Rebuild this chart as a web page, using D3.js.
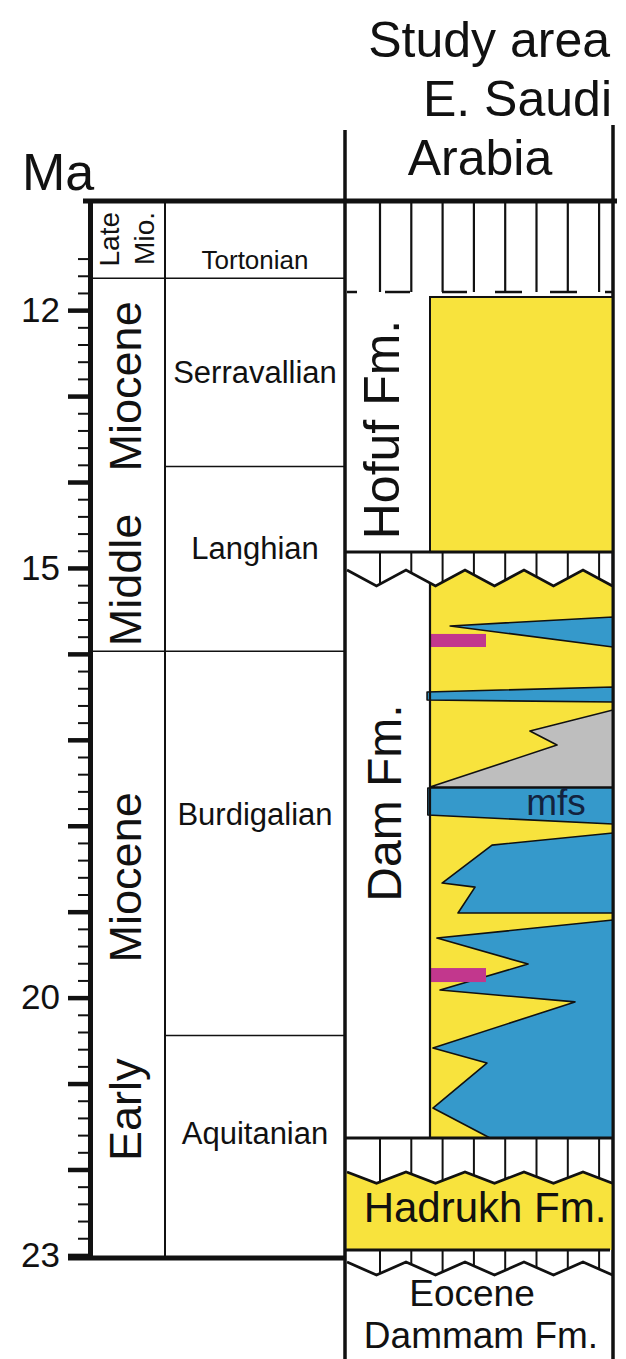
<!DOCTYPE html>
<html>
<head>
<meta charset="utf-8">
<script src="https://cdn.jsdelivr.net/npm/d3@7"></script>
<style>
  body { margin: 0; background: #fff; }
  svg { display: block; }
  text { font-family: "Liberation Sans", Arial, Helvetica, sans-serif; fill: #111; }
</style>
</head>
<body>
<svg id="chart" width="626" height="1359"></svg>
<script>
// ---------- Time scale (Ma) ----------
const timeTop = 10.73;
const timeBase = 23.03;
const majorTicks = d3.range(12, 24);                  // 12 … 23 Ma
const minorTicks = d3.range(57, 116).map(i => i / 5)  // 11.4 … 23.0 Ma
  .filter(v => !Number.isInteger(v));
const labelledTicks = [12, 15, 20, 23];

const epochNames = [["Late", "Mio."], ["Middle", "Miocene"], ["Early", "Miocene"]];
const epochTops  = [10.73, 11.63, 15.97];
const epochBases = [11.63, 15.97, 23.03];

const stageNames  = ["Tortonian", "Serravallian", "Langhian", "Burdigalian", "Aquitanian"];
const stageTops   = [10.73, 11.63, 13.82, 15.97, 20.44];
const stageBases  = [11.63, 13.82, 15.97, 20.44, 23.03];
const stageLabelAt = [11.42, 12.72, 14.77, 17.87, 21.58];

// ---------- Eastern Saudi Arabia succession ----------
// polygons are [fraction across the lithology column, age in Ma]
const hofufSand = [11.847, 14.815];          // top, base
const damBase = 21.634;
const hadrukhBase = 22.938;

const shaleWedges = [
  [[0.11, 15.675], [1, 15.571], [1, 15.92]],
  [[-0.016, 16.444], [1, 16.386], [1, 16.56], [-0.016, 16.537]],
  [[1, 18.085], [0.339, 18.225], [0.066, 18.667], [0.246, 18.714], [0.153, 19.016], [1, 19.016]],
  [[1, 19.097], [0.038, 19.307], [0.536, 19.61], [0.055, 19.912], [0.792, 20.05],
   [0.016, 20.587], [0.311, 20.762], [0.016, 21.285], [0.328, 21.634], [1, 21.634]]
];
const mfsBand = [[-0.012, 17.56], [1, 17.56], [1, 17.98], [-0.012, 17.875]];
const carbonate = [[1, 16.653], [0.546, 16.898], [0.694, 17.061], [0, 17.55], [1, 17.55]];
const markerBars = [[15.768, 15.92], [19.656, 19.819]];   // top, base
const markerBarWidth = 0.306;

// ---------- Layout ----------
const svg = d3.select("#chart");
const y = d3.scaleLinear().domain([timeTop, timeBase]).range([201, 1258]);
const X = { axis: 90, epoch: 165, stage: 345, right: 613, lith: 430 };
const fx = d3.scaleLinear().domain([0, 1]).range([X.lith, X.right]);

const YELLOW = "#F8E33D", BLUE = "#3599CB", GREY = "#BEBEBE", PINK = "#C2378D", INK = "#111";

const line = (x1, y1, x2, y2, w) => svg.append("line")
  .attr("x1", x1).attr("y1", y1).attr("x2", x2).attr("y2", y2)
  .attr("stroke", INK).attr("stroke-width", w);

// ---------- Headers ----------
svg.append("text").attr("x", 22).attr("y", 190).attr("font-size", 52).text("Ma");
svg.append("text").attr("x", 610).attr("y", 57).attr("font-size", 50)
  .attr("text-anchor", "end").text("Study area");
svg.append("text").attr("x", 612).attr("y", 116).attr("font-size", 50)
  .attr("text-anchor", "end").text("E. Saudi");
svg.append("text").attr("x", 480).attr("y", 175).attr("font-size", 50)
  .attr("text-anchor", "middle").text("Arabia");

// ---------- Column frame ----------
line(X.epoch, y(timeTop), X.epoch, y(timeBase), 2);
line(X.stage, 130, X.stage, 1359, 3);
line(X.right, 125, X.right, 1359, 3);

// stage boundaries
stageTops.slice(1).forEach(t => {
  const fromX = epochTops.includes(t) ? X.axis : X.epoch;
  line(fromX, y(t), X.stage, y(t), 1.5);
});

// ---------- Time axis ----------
const minorAxis = d3.axisLeft(y).tickValues(minorTicks).tickSize(12).tickSizeOuter(0).tickFormat("");
const majorAxis = d3.axisLeft(y).tickValues(majorTicks).tickSize(22).tickSizeOuter(0).tickPadding(8)
  .tickFormat(d => labelledTicks.includes(d) ? d : "");

const gMinor = svg.append("g").attr("transform", `translate(${X.axis},0)`).call(minorAxis);
gMinor.select(".domain").remove();
gMinor.selectAll(".tick line").attr("stroke", INK).attr("stroke-width", 2);

const gMajor = svg.append("g").attr("transform", `translate(${X.axis},0)`).call(majorAxis);
gMajor.select(".domain").attr("stroke", INK).attr("stroke-width", 5);
gMajor.selectAll(".tick line").attr("stroke", INK).attr("stroke-width", 4.5);
gMajor.selectAll(".tick text").attr("font-size", 35).attr("font-family", null).attr("fill", INK);

line(83, y(timeTop), 617, y(timeTop), 5);
line(68, y(timeBase), X.stage, y(timeBase), 5);

// ---------- Epochs ----------
const epochMid = (X.axis + X.epoch) / 2;
function vText(cx, cy, txt, size, anchor) {
  return svg.append("text")
    .attr("transform", `translate(${cx + size * 0.36},${cy}) rotate(-90)`)
    .attr("text-anchor", anchor || "middle")
    .attr("font-size", size).text(txt);
}
// late Miocene: two short words side by side, hanging from the top
vText(epochMid - 19, y(epochTops[0]) + 11, epochNames[0][0], 28, "end");
vText(epochMid + 16, y(epochTops[0]) + 11, epochNames[0][1], 28, "end");
// middle Miocene: first word rests on the base, second hangs from the top
vText(epochMid - 3, y(epochBases[1]) - 5, epochNames[1][0], 45, "start");
vText(epochMid - 3, y(epochTops[1]) + 23, epochNames[1][1], 45, "end");
// early Miocene
vText(epochMid - 3, y(epochBases[2]) - 97, epochNames[2][0], 45, "start");
vText(epochMid - 3, y(epochTops[2]) + 141, epochNames[2][1], 45, "end");

// ---------- Stages ----------
const stageMid = (X.epoch + X.stage) / 2;
stageNames.forEach((nm, i) => {
  svg.append("text").attr("x", stageMid).attr("y", y(stageLabelAt[i]))
    .attr("dy", "0.35em").attr("text-anchor", "middle")
    .attr("font-size", i === 0 ? 26 : 31).text(nm);
});

// ---------- Hiatus pattern and unconformities ----------
const hatchX = d3.range(8).map(i => 380 + i * 31.3);

function zigzag(hiAge, loAge) {
  return d3.range(10).map(i => [Math.min(347 + i * 29.5, X.right), i % 2 === 0 ? hiAge : loAge]);
}
function zigY(pts, x) {
  for (let i = 0; i < pts.length - 1; i++) {
    const [x0, a0] = pts[i], [x1, a1] = pts[i + 1];
    if (x >= x0 && x <= x1) return y(a0 + (a1 - a0) * (x - x0) / (x1 - x0));
  }
  return y(pts[pts.length - 1][1]);
}
const zigLine = d3.line().x(d => d[0]).y(d => y(d[1]));

// top hiatus above the Hofuf Formation
const hiatusBase = 11.789;
hatchX.forEach(x => line(x, y(timeTop), x, y(hiatusBase), 2.2));
[[347, 357], [385, 410], [442, 467], [495, 522], [550, 577], [605, 613]]
  .forEach(([a, b]) => line(a, y(hiatusBase), b, y(hiatusBase), 2.5));

// Hofuf Formation
svg.append("rect").attr("x", fx(0)).attr("y", y(hofufSand[0]))
  .attr("width", fx(1) - fx(0)).attr("height", y(hofufSand[1]) - y(hofufSand[0]))
  .attr("fill", YELLOW).attr("stroke", INK).attr("stroke-width", 2);
vText(381, (y(hofufSand[0]) + y(hofufSand[1])) / 2 + 5, "Hofuf Fm.", 50);

// unconformity at the base of the Hofuf
line(X.stage, y(hofufSand[1]), X.right, y(hofufSand[1]), 3);
const damZig = zigzag(15.024, 15.21);
hatchX.forEach(x => line(x, y(hofufSand[1]), x, zigY(damZig, x), 2));

// Dam Formation, clipped beneath the erosion surface
const damClip = svg.append("clipPath").attr("id", "damClip");
damClip.append("path").attr("d",
  zigLine(damZig.concat([[X.right, damBase], [X.stage, damBase], [X.stage, damZig[0][1]]])) + "Z");
const gDam = svg.append("g").attr("clip-path", "url(#damClip)");
gDam.append("rect").attr("x", fx(0)).attr("y", y(14.9))
  .attr("width", fx(1) - fx(0)).attr("height", y(damBase) - y(14.9)).attr("fill", YELLOW);

const poly = d3.line().x(d => fx(d[0])).y(d => y(d[1]));
gDam.append("path").attr("d", poly(carbonate) + "Z")
  .attr("fill", GREY).attr("stroke", INK).attr("stroke-width", 1.6).attr("stroke-linejoin", "round");
shaleWedges.concat([mfsBand]).forEach(p => {
  gDam.append("path").attr("d", poly(p) + "Z")
    .attr("fill", BLUE).attr("stroke", INK).attr("stroke-width", 1.6).attr("stroke-linejoin", "round");
});
markerBars.forEach(([t, b]) => {
  gDam.append("rect").attr("x", fx(0)).attr("y", y(t))
    .attr("width", fx(markerBarWidth) - fx(0)).attr("height", y(b) - y(t)).attr("fill", PINK);
});
gDam.append("line").attr("x1", fx(0)).attr("x2", fx(0)).attr("y1", y(14.9)).attr("y2", y(damBase))
  .attr("stroke", INK).attr("stroke-width", 2.2);

svg.append("path").attr("d", zigLine(damZig)).attr("fill", "none")
  .attr("stroke", INK).attr("stroke-width", 2.8).attr("stroke-linejoin", "miter");

svg.append("text").attr("x", 556).attr("y", y(17.875)).attr("text-anchor", "middle")
  .attr("font-size", 37).style("fill", "#13233F").text("mfs");
vText(384, 803, "Dam Fm.", 48);

// Dam / Hadrukh unconformity
line(X.stage, y(damBase), X.right, y(damBase), 3);
const hadZig = zigzag(22.03, 22.16);
hatchX.forEach(x => line(x, y(damBase), x, zigY(hadZig, x), 2));
svg.append("path")
  .attr("d", zigLine(hadZig.concat([[X.right, hadrukhBase], [X.stage + 1.5, hadrukhBase], [X.stage + 1.5, hadZig[0][1]]])) + "Z")
  .attr("fill", YELLOW);
svg.append("path").attr("d", zigLine(hadZig)).attr("fill", "none")
  .attr("stroke", INK).attr("stroke-width", 2.8);
svg.append("text").attr("x", 485).attr("y", 1222).attr("text-anchor", "middle")
  .attr("font-size", 42).text("Hadrukh Fm.");
line(X.stage, y(hadrukhBase), 610, y(hadrukhBase), 3);

// Hadrukh / Dammam unconformity
const dammamZig = zigzag(23.077, 23.228);
hatchX.forEach(x => line(x, y(hadrukhBase), x, zigY(dammamZig, x), 2));
svg.append("path").attr("d", zigLine(dammamZig)).attr("fill", "none")
  .attr("stroke", INK).attr("stroke-width", 2.8);
svg.append("text").attr("x", 472).attr("y", 1306).attr("text-anchor", "middle")
  .attr("font-size", 37).text("Eocene");
svg.append("text").attr("x", 481).attr("y", 1348).attr("text-anchor", "middle")
  .attr("font-size", 37).text("Dammam Fm.");

// redraw column borders on top of fills
line(X.stage, 130, X.stage, 1359, 3);
line(X.right, 125, X.right, 1359, 3);
</script>
</body>
</html>
